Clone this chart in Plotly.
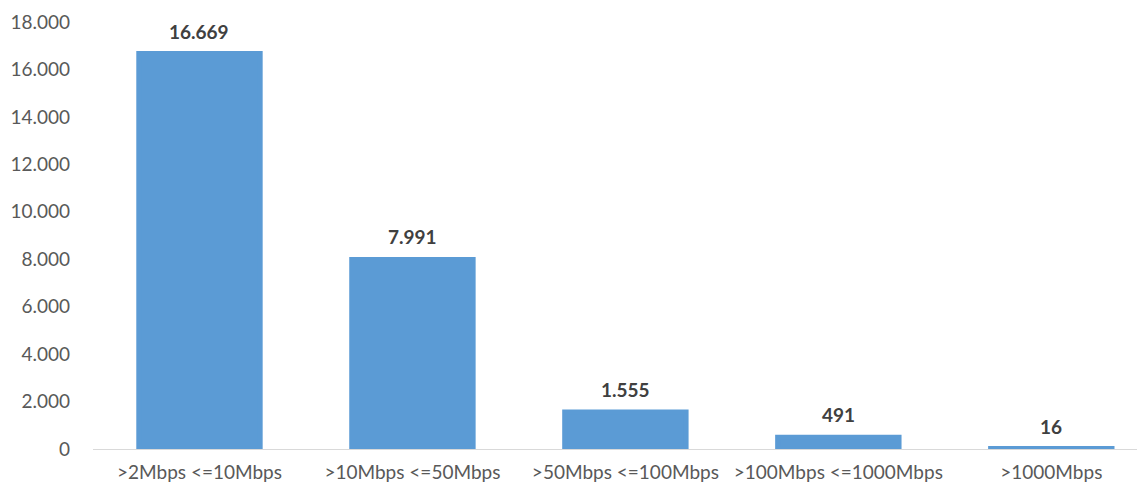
import plotly.graph_objects as go

categories = [">2Mbps <=10Mbps", ">10Mbps <=50Mbps", ">50Mbps <=100Mbps",
              ">100Mbps <=1000Mbps", ">1000Mbps"]
values = [16669, 7991, 1555, 491, 16]
value_labels = ["16.669", "7.991", "1.555", "491", "16"]
tick_vals = [0, 2000, 4000, 6000, 8000, 10000, 12000, 14000, 16000, 18000]

fig = go.Figure(go.Bar(
    x=categories, y=values,
    marker=dict(color="#5B9BD5", line=dict(color="#5B9BD5", width=5)),
    width=0.57,
    hoverinfo="x+y",
))

for c, v, lab in zip(categories, values, value_labels):
    fig.add_annotation(
        x=c, y=v, text="<b>" + lab + "</b>", showarrow=False,
        yanchor="bottom", yshift=9,
        font=dict(family="Lato", size=19, color="#404040"),
    )

# page body has an 8px default margin; compensate so the plot sits as in the reference
fig.update_layout(
    width=1137, height=477,
    margin=dict(l=85, r=0, t=14, b=36, autoexpand=False),
    paper_bgcolor="white", plot_bgcolor="white",
    separators=",.",
    showlegend=False,
    font=dict(family="Lato", size=19, color="#595959"),
)
fig.update_xaxes(
    range=[-0.5, 4.44], showline=True, linecolor="#D9D9D9", linewidth=1,
    showgrid=False, ticks="", ticklabelstandoff=6, automargin=False,
    tickfont=dict(family="Lato", size=19, color="#595959"),
)
fig.update_yaxes(
    range=[0, 18000], tickvals=tick_vals, tickformat=",d",
    showgrid=False, zeroline=False, showline=False, ticks="",
    ticklabelstandoff=22, automargin=False,
    tickfont=dict(family="Lato", size=19, color="#595959"),
)

fig.write_html("out.html")
